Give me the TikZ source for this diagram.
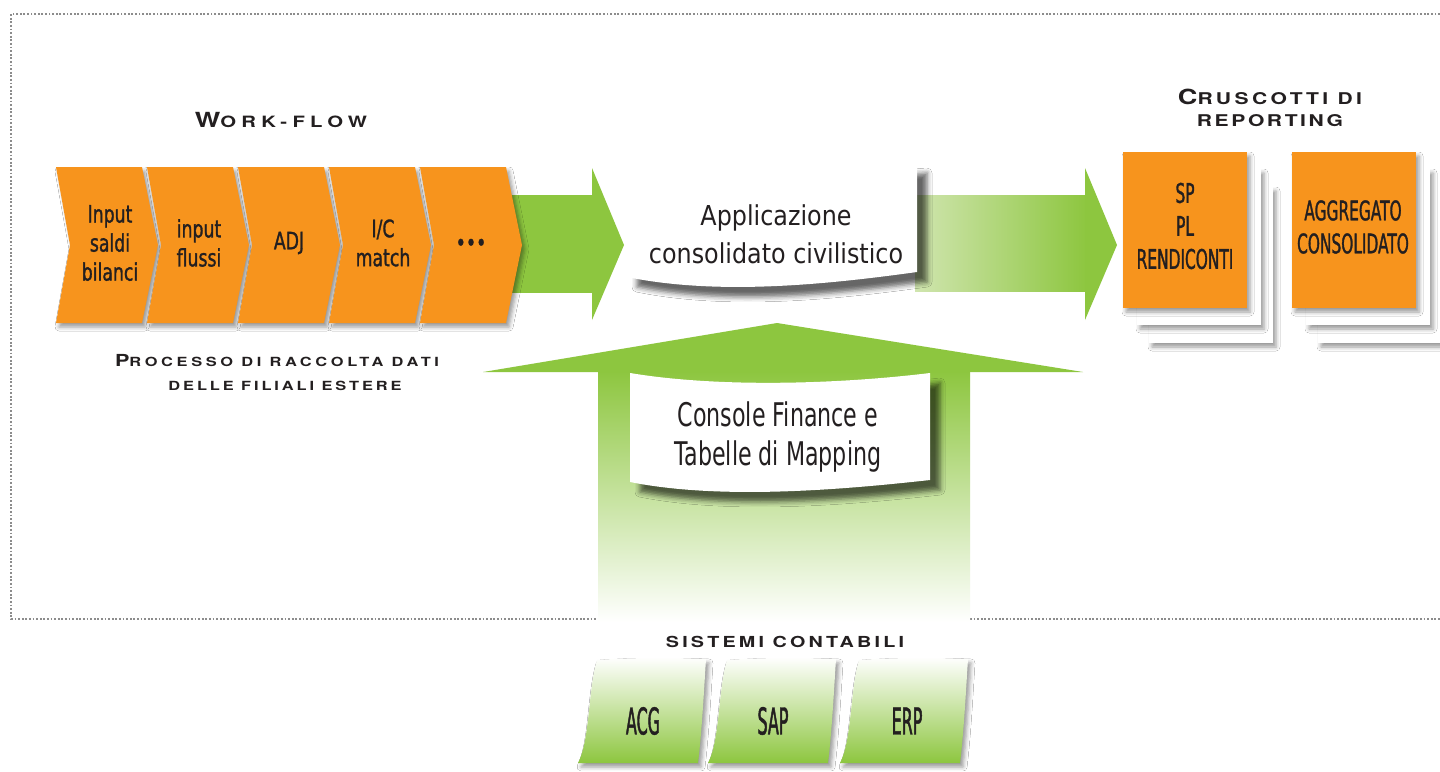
\documentclass[tikz,border=0pt]{standalone}
\usepackage{fontspec}
\usetikzlibrary{shadows.blur}
\newfontfamily\tf[FakeStretch=1.3]{TeX Gyre Heros}
\newfontfamily\cfA[FakeStretch=0.87]{DejaVu Sans}
\newfontfamily\cfB[FakeStretch=0.72,FakeBold=1.2]{DejaVu Sans}
\newfontfamily\cfBr[FakeStretch=0.68]{DejaVu Sans}
\newfontfamily\cfC[FakeStretch=0.57,FakeBold=1.2]{DejaVu Sans}
\newfontfamily\cfD[FakeStretch=0.43,FakeBold=1.2]{DejaVu Sans}
\definecolor{org}{RGB}{247,148,29}
\definecolor{grn}{RGB}{141,198,63}
\definecolor{lgrn}{RGB}{208,229,175}
\definecolor{txt}{RGB}{35,31,32}
\definecolor{framegray}{RGB}{140,140,140}
\tikzset{
  frame/.style={draw=framegray, line width=0.7pt, dash pattern=on 0.9pt off 0.9pt},
  sh/.style={blur shadow={shadow xshift=1.5pt, shadow yshift=-2pt, shadow blur radius=2pt, shadow opacity=40}},
  bigsh/.style={blur shadow={shadow xshift=5pt, shadow yshift=-5pt, shadow blur radius=2.5pt, shadow opacity=60}},
  chevron/.style={fill=org, sh},
  chevtxt/.style={font=\cfB\fontsize{12}{14.5}\selectfont, text=txt, align=center, inner sep=0pt},
  bantxt/.style={font=\cfA\fontsize{13.7}{19}\selectfont, text=txt, align=center, inner sep=0pt},
  contxt/.style={font=\cfBr\fontsize{16.3}{19.5}\selectfont, text=txt, align=center, inner sep=0pt},
  boxtxt/.style={font=\cfC\fontsize{13.5}{16.5}\selectfont, text=txt, align=center, inner sep=0pt},
  tiletxt/.style={font=\cfD\fontsize{18.5}{20}\selectfont, text=txt, align=center, inner sep=0pt},
  titletxt/.style={font=\tf\bfseries, text=txt, align=center, inner sep=0pt},
  page/.style={fill=white, sh},
  repbox/.style={fill=org, sh},
}
\begin{document}
\begin{tikzpicture}[x=0.5pt,y=-0.5pt]
\useasboundingbox (0,0) rectangle (1440,771);
\fill[white] (0,0) rectangle (1440,771);
% frame
\draw[frame] (1440,14) -- (11,14) -- (11,619) -- (598,619);
\draw[frame] (970,619) -- (1440,619);

% left green arrow
\fill[grn] (500,195) rectangle (594,293);
\fill[grn] (592,168) -- (624,245) -- (592,320) -- cycle;

% chevrons
\foreach \x in {56,147,238,329,420}{
  \path[chevron] (\x,167) -- ++(86,0) -- ++(16,78) -- ++(-16,78) -- ++(-86,0) -- ++(14,-78) -- cycle;
}
\node[chevtxt] (c1) at (110,243) {Input\\saldi\\bilanci};
\node[chevtxt] (c2) at (199,243) {input\\flussi};
\node[chevtxt] (c3) at (289,243) {ADJ};
\node[chevtxt] (c4) at (383,243) {I/C\\match};
\node[chevtxt] (c5) at (471,245) {•••};

% titles
\node[titletxt] (wf) at (281,120) {\addfontfeature{LetterSpace=34}{\fontsize{10.4}{12}\selectfont W}{\fontsize{7.8}{12}\selectfont ORK-FLOW}};
\node[titletxt] (pr1) at (277,361) {\addfontfeature{LetterSpace=29}{\fontsize{8.3}{10}\selectfont P}{\fontsize{6.3}{10}\selectfont ROCESSO DI RACCOLTA DATI}};
\node[titletxt] (pr2) at (285,386) {\addfontfeature{LetterSpace=23}\fontsize{6.3}{10}\selectfont DELLE FILIALI ESTERE};
\node[titletxt] (cr1) at (1270,97) {\addfontfeature{LetterSpace=21}{\fontsize{10.4}{12}\selectfont C}{\fontsize{8.1}{12}\selectfont RUSCOTTI DI}};
\node[titletxt] (cr2) at (1270,121) {\addfontfeature{LetterSpace=16}\fontsize{8.1}{12}\selectfont REPORTING};
\node[titletxt] (sc) at (785,642) {\addfontfeature{LetterSpace=21}\fontsize{7.6}{10}\selectfont SISTEMI CONTABILI};

% right green arrow
\shade[left color=lgrn, right color=grn] (915,195) rectangle (1087,291);
\fill[grn] (1085,168) -- (1117,245) -- (1085,320) -- cycle;

% Applicazione banner
\path[fill=white, bigsh] (627,165) .. controls (720,178) and (830,170) .. (917,163) -- (917,272) .. controls (830,284) and (720,296) .. (627,277) -- cycle;
\node[bantxt] (app) at (776,234) {Applicazione\\consolidato civilistico};

% up arrow
\shade[top color=grn, middle color=lgrn, bottom color=white] (598,371) rectangle (970,622);
\fill[grn] (483,372) -- (777,323) -- (1083,372) -- cycle;

% Console banner
\path[fill=white, bigsh] (630,373) .. controls (720,388) and (840,384) .. (930,373) -- (930,480) .. controls (840,490) and (720,500) .. (630,482) -- cycle;
\node[contxt] (con) at (778,437) {Console Finance e\\Tabelle di Mapping};

% report boxes
\foreach \bx in {1123,1292}{
  \path[page] (\bx+26,152+35) rectangle ++(124,156);
  \path[page] (\bx+14,152+17) rectangle ++(124,156);
  \path[repbox] (\bx,152) rectangle ++(124,156);
}
\node[boxtxt] (r1) at (1185,226) {SP\\PL\\RENDICONTI};
\node[boxtxt] (r2) at (1353,227) {AGGREGATO\\CONSOLIDATO};

% tiles
\foreach \tx in {0,130,262}{
  \begin{scope}[xshift=\tx*0.5pt]
  \path[top color=white, middle color=lgrn, bottom color=grn, sh]
    (597,660) .. controls (640,657) and (680,658) .. (706,659)
    .. controls (704,690) and (702,730) .. (698,763)
    -- (578,763) .. controls (590,740) and (588,690) .. cycle;
  \end{scope}
}
\node[tiletxt] (t1) at (643,721) {ACG};
\node[tiletxt] (t2) at (773,721) {SAP};
\node[tiletxt] (t3) at (907,721) {ERP};
\end{tikzpicture}
\end{document}
